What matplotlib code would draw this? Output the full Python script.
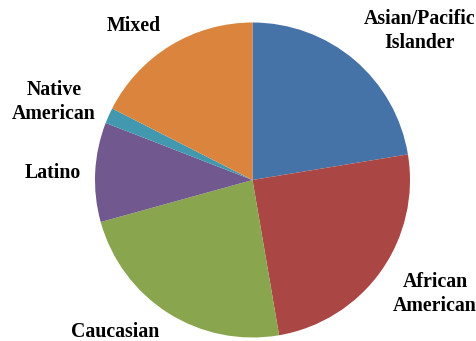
import matplotlib.pyplot as plt

labels = ['Asian/Pacific\nIslander', 'African\nAmerican', 'Caucasian',
          'Latino', 'Native\nAmerican', 'Mixed']
values = [22.4, 24.9, 23.4, 10.2, 1.6, 17.5]
colors = ['#4572A7', '#AA4643', '#89A54E', '#71588F', '#4198AF', '#DB843D']

# label positions in pixels (x from left, y from top)
label_xy = [(420, 31), (435, 294), (115, 332), (53, 173), (54, 102), (134, 26)]

W, H = 477, 341
fig = plt.figure(figsize=(W / 100, H / 100), dpi=100)
ax = fig.add_axes([0, 0, 1, 1])

ax.pie(values, colors=colors, startangle=90, counterclock=False,
       center=(252.5, H - 180), radius=157.5, frame=True,
       wedgeprops=dict(linewidth=0))
ax.set_xlim(0, W)
ax.set_ylim(0, H)
ax.set_aspect('equal')
ax.axis('off')

for lab, (x, y) in zip(labels, label_xy):
    ax.text(x, H - y, lab, ha='center', va='center', fontsize=14.3,
            fontweight='bold', family='Liberation Serif', linespacing=1.25)

fig.savefig('out.png', dpi=100)
